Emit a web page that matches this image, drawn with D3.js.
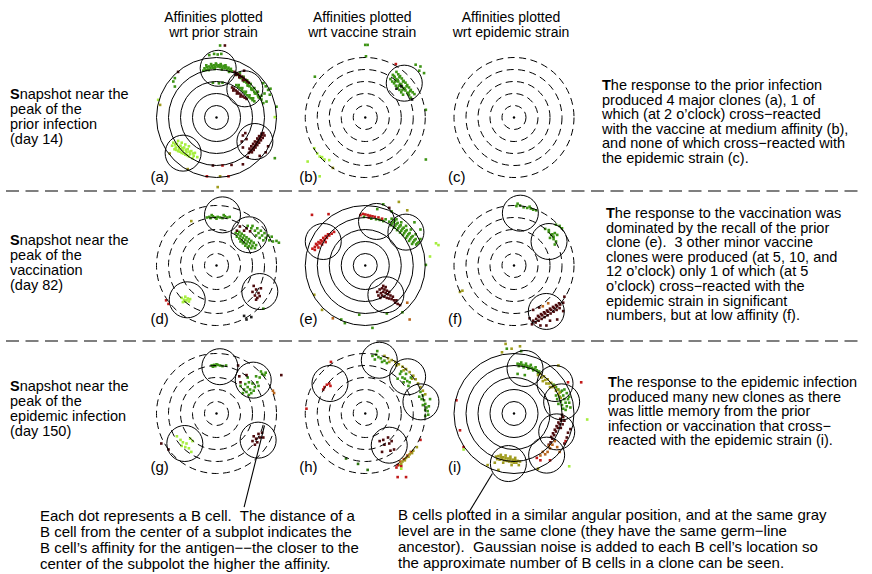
<!DOCTYPE html>
<html>
<head>
<meta charset="utf-8">
<script src="https://cdn.jsdelivr.net/npm/d3@7/dist/d3.min.js"></script>
<style>
body { margin: 0; background: #fff; }
text { font-family: "Liberation Sans", Arial, sans-serif; fill: #000; white-space: pre; }
</style>
</head>
<body>
<svg id="chart" width="872" height="574"></svg>
<script>
// ---- text content ----
const columnTitles = [
  ["Affinities plotted", "wrt prior strain"],
  ["Affinities plotted", "wrt vaccine strain"],
  ["Affinities plotted", "wrt epidemic strain"]
];
const rowTitles = [
  ["Snapshot near the", "peak of the", "prior infection", "(day 14)"],
  ["Snapshot near the", "peak of the", "vaccination", "(day 82)"],
  ["Snapshot near the", "peak of the", "epidemic infection", "(day 150)"]
];
const rowNotes = [
  ["The response to the prior infection", "produced 4 major clones (a), 1 of", "which (at 2 o\u2019clock) cross\u2212reacted", "with the vaccine at medium affinity (b),", "and none of which cross\u2212reacted with", "the epidemic strain (c)."],
  ["The response to the vaccination was", "dominated by the recall of the prior", "clone (e).  3 other minor vaccine", "clones were produced (at 5, 10, and", "12 o\u2019clock) only 1 of which (at 5", "o\u2019clock) cross\u2212reacted with the", "epidemic strain in significant", "numbers, but at low affinity (f)."],
  ["The response to the epidemic infection", "produced many new clones as there", "was little memory from the prior", "infection or vaccination that cross\u2212", "reacted with the epidemic strain (i)."]
];
const footLeft = ["Each dot represents a B cell.  The distance of a", "B cell from the center of a subplot indicates the", "B cell\u2019s affinity for the antigen\u2212\u2212the closer to the", "center of the subpolot the higher the affinity."];
const footRight = ["B cells plotted in a similar angular position, and at the same gray", "level are in the same clone (they have the same germ\u2212line", "ancestor).  Gaussian noise is added to each B cell\u2019s location so", "the approximate number of B cells in a clone can be seen."];

// ---- panel data (affinity-distance units, ring spacing = 1) ----
const panelIds = ["a", "b", "c", "d", "e", "f", "g", "h", "i"];
const solidPanels = ["a", "e", "i"];
const ringLevels = [1, 2, 3, 4, 5];
const cloneColors = { g: "#3e9416", d: "#2c7410", l: "#a6ee3e", m: "#4e0c0e", r: "#c21a1a", o: "#a09c1e", b: "#b8661e", k: "#1e1e1e" };

// clone circle centres per panel
const clonesA = [[0.14, 4.1], [2.36, 2.39], [3.2, -2.0], [-2.78, -2.97]];
const clonesB = [[3.25, 2.86]];
const clonesC = [];
const clonesD = [[0.5, 4.22], [2.72, 2.56], [3.61, -2.17], [-2.44, -2.86]];
const clonesE = [[-3.5, 2.0], [0.94, 3.67], [3.39, 2.78], [1.72, -2.44]];
const clonesF = [[0.53, 4.36], [2.92, 2.0], [2.69, -3.83]];
const clonesG = [[0.28, 3.9], [3.06, 2.78], [3.47, -2.22], [-2.64, -2.5]];
const clonesH = [[-2.94, 2.5], [1.17, 4.44], [3.53, 3.06], [4.64, 0.97], [2.0, -2.64]];
const clonesI = [[0.92, 3.75], [3.42, 2.5], [3.97, 0.97], [3.56, -1.53], [2.72, -3.47], [-0.47, -4.17]];

// B cells per panel, grouped by clone colour
const cellsA = [
  ["g", [[-1.1,3.9],[-1.0,4.1],[-0.9,3.95],[-0.8,4.2],[-0.7,4.0],[-0.6,4.25],[-0.5,4.1],[-0.4,4.3],[-0.3,4.15],[-0.2,4.35],[-0.1,4.2],[0.0,4.4],[0.1,4.25],[0.2,4.35],[0.3,4.2],[0.4,4.3],[0.5,4.15],[0.6,4.3],[0.7,4.1],[0.8,4.2],[0.9,4.0],[1.0,4.15],[1.1,3.95],[1.2,4.05],[1.3,3.85],[-0.85,4.35],[-0.45,4.45],[-0.05,4.5],[0.35,4.45],[0.75,4.35],[-0.65,3.95],[-0.15,4.05],[0.45,4.0],[1.05,3.8],
    [-0.6,5.2],[-0.2,5.3],[0.1,5.25],[0.4,5.3],[0.3,6.0],[-0.3,2.9],[0.2,2.85],[0.5,2.9],[-3.47,3.28],[-3.6,3.0],[-3.47,2.58],[5.0,0.9],
    [1.8,3.55],[1.95,3.45],[2.1,3.3],[2.2,3.2],[2.35,3.05],[2.5,2.9],[2.6,2.75],[2.75,2.6],[2.9,2.45],[3.0,2.3],[3.15,2.15],[3.3,2.0],[3.45,1.85],[3.6,1.65],[3.75,1.5],
    [1.95,3.7],[2.25,3.4],[2.55,3.1],[2.85,2.8],[3.15,2.45],[3.45,2.15],[3.75,1.8],[2.0,3.3],[2.3,3.0],[2.6,2.65],[2.9,2.35],[3.2,2.0],[3.5,1.7],
    [1.65,2.7],[1.8,2.55],[1.95,2.45],[2.1,2.3],[2.25,2.15],[2.4,2.0],[2.55,1.85],[2.7,1.7],[2.85,1.6],[3.0,1.45],[3.15,1.35],[1.85,2.7],[2.15,2.45],[2.45,2.15],[2.75,1.85],[3.05,1.6],
    [3.9,2.86],[4.1,2.6],[4.3,2.3],[4.44,1.9],[4.17,1.33],[4.0,2.0],[4.5,2.4],[3.9,1.2],[4.86,-3.39]]],
  ["m", [[1.5,3.8],[1.65,3.7],[1.8,3.6],[1.95,3.5],[2.1,3.4],[2.25,3.3],[2.4,3.15],[2.55,3.0],[1.6,3.55],[1.9,3.35],[2.2,3.1],[2.7,2.9],
    [1.3,2.5],[1.45,2.4],[1.6,2.25],[1.75,2.15],[1.9,2.0],[2.05,1.9],[2.2,1.75],[2.35,1.65],[2.5,1.55],[1.4,2.25],[1.7,2.0],[2.0,1.75],
    [3.9,-1.3],[3.8,-1.45],[3.7,-1.6],[3.6,-1.75],[3.5,-1.9],[3.4,-2.05],[3.3,-2.2],[3.2,-2.35],[3.1,-2.5],[3.0,-2.6],[2.9,-2.75],[2.8,-2.85],[2.7,-2.95],
    [4.0,-1.5],[3.85,-1.7],[3.7,-1.9],[3.55,-2.1],[3.4,-2.3],[3.25,-2.5],[3.1,-2.7],[2.95,-2.9],[3.75,-1.35],[3.55,-1.55],[3.4,-1.75],[3.2,-2.0],[3.05,-2.2],[2.9,-2.4],[2.75,-2.6],
    [2.2,-1.5],[2.4,-1.3],[2.1,-2.0],[2.5,-1.8],[4.3,-2.4],[4.1,-2.9],[3.6,-3.2],[2.2,-2.5],[2.6,-3.3],
    [-0.3,-4.0],[1.25,-3.95],[2.2,-3.9],[2.3,3.9],[-3.2,3.8],[0.7,6.0]]],
  ["l", [[-3.6,-2.1],[-3.3,-2.2],[-3.0,-2.35],[-2.7,-2.5],[-2.4,-2.65],[-2.1,-2.8],[-1.8,-2.95],
    [-3.7,-2.35],[-3.4,-2.5],[-3.1,-2.6],[-2.8,-2.75],[-2.5,-2.9],[-2.2,-3.05],[-1.9,-3.2],[-1.6,-3.3],
    [-3.5,-2.65],[-3.2,-2.8],[-2.9,-2.95],[-2.6,-3.1],[-2.3,-3.25],[-2.0,-3.4],
    [-3.2,-1.95],[-2.9,-2.1],[-2.6,-2.25],[-2.3,-2.4],
    [-3.45,-2.25],[-3.15,-2.45],[-2.85,-2.55],[-2.55,-2.7],[-2.25,-2.85],[-1.95,-3.0],[-3.35,-2.7],[-3.05,-2.85],[-2.75,-3.0],[-2.45,-3.15],
    [-4.86,1.47],[4.86,0.03]]],
  ["r", [[0.5,-4.0],[1.0,-4.9],[-0.8,-4.9]]],
  ["o", [[-3.9,-3.0],[-2.4,-4.3],[-4.7,1.05],[0.3,-4.9],[0.1,-5.8]]]
];
const cellsB = [
  ["g", [[2.6,3.8],[2.75,3.6],[2.9,3.45],[3.05,3.25],[3.2,3.05],[3.35,2.9],[3.5,2.7],[3.65,2.5],[3.8,2.3],[3.95,2.1],[4.1,1.95],
    [2.3,3.55],[2.45,3.35],[2.6,3.2],[2.75,3.0],[2.9,2.8],[3.05,2.6],[3.2,2.45],[3.35,2.25],[3.5,2.05],[3.65,1.85],[3.8,1.65],
    [2.1,3.2],[2.25,3.0],[2.4,2.85],[2.55,2.65],[2.7,2.45],[2.85,2.3],[3.0,2.1],[3.15,1.9],
    [2.4,3.45],[2.7,3.1],[3.0,2.75],[3.3,2.4],[3.6,2.05],[2.5,3.0],[2.8,2.65],[3.1,2.3],[2.85,3.35],[3.15,3.0],[3.45,2.6],[3.75,2.2],
    [4.2,4.4],[4.6,4.25],[4.9,3.7],[4.5,3.9],[0.06,5.1],[0.0,6.05],[0.2,6.05],[-4.2,3.4],[5.05,0.64],[5.05,-3.5]]],
  ["k", [[3.0,2.6],[3.9,1.5],[2.6,2.4]]],
  ["r", [[2.55,4.45]]],
  ["l", [[-4.25,-2.56],[-3.8,-3.25],[-3.4,-3.5],[-3.0,-3.55],[-3.6,-3.3],[-4.8,-3.67],[-3.8,-4.9],[-4.0,-3.0]]],
  ["o", [[-2.7,-4.2]]]
];
const cellsC = [];
const cellsD = [
  ["g", [[-0.8,4.0],[-0.6,4.05],[-0.5,3.95],[-0.3,4.1],[-0.1,4.0],[0.1,4.05],[0.3,4.0],[0.5,3.95],[0.7,4.1],[0.9,4.0],[1.1,4.05],[-0.4,4.2],[0.6,4.2],[0.0,3.9],
    [1.6,2.7],[1.8,2.6],[2.0,2.45],[2.2,2.3],[2.4,2.15],[2.6,2.0],[2.8,1.85],[3.0,1.65],[3.2,1.45],
    [1.7,2.4],[1.9,2.25],[2.1,2.1],[2.3,1.95],[2.5,1.8],[2.7,1.6],[2.9,1.45],
    [1.9,2.8],[2.1,2.65],[2.3,2.5],[2.5,2.35],[2.7,2.2],[2.9,2.05],[3.1,1.9],[3.3,1.7],
    [2.0,2.0],[2.2,1.85],[2.4,1.65],[2.6,1.5],
    [2.6,3.3],[2.9,3.1],[3.2,2.9],[3.5,2.7],[3.8,2.5],[4.1,2.3],[4.4,2.1],[4.7,2.0],[5.0,2.05],[3.0,3.3],[3.4,3.1],[3.7,2.9],[4.0,2.7],[4.3,2.5],[3.6,2.3],[3.9,2.1],[4.6,2.4],[5.2,1.9],[3.3,2.5],[3.9,-3.6]]],
  ["m", [[2.5,3.1],[2.8,2.85],[1.95,3.25],[1.7,2.9],[2.3,2.9],
    [3.1,-1.7],[3.3,-2.0],[3.5,-2.3],[3.2,-2.5],[3.4,-2.7],[3.6,-2.55],[3.0,-2.2],[3.7,-1.9],[3.3,-2.85]]],
  ["l", [[-2.9,-2.7],[-2.7,-2.85],[-2.5,-2.9],[-2.3,-3.0],[-2.6,-3.0],[-2.8,-3.05],[-2.4,-2.75],[-2.2,-2.8],[-2.6,-2.6]]],
  ["r", [[-4.2,-2.9],[-4.0,-3.2]]],
  ["o", [[-2.1,3.7]]],
  ["k", [[2.5,-4.5],[2.9,-4.3],[2.3,-4.2]]]
];
const cellsE = [
  ["r", [[-4.4,1.4],[-4.2,1.55],[-4.0,1.7],[-3.8,1.85],[-3.6,2.0],[-3.4,2.15],[-3.2,2.3],[-3.0,2.5],[-2.8,2.65],[-2.6,2.8],
    [-4.1,1.8],[-3.9,1.95],[-3.7,2.1],[-3.5,2.3],[-3.3,2.45],[-3.1,2.6],[-4.2,1.3],[-3.9,1.5],[-3.6,1.75],[-3.3,1.95],
    [-4.44,4.22],[-3.06,4.28],
    [-0.4,4.2],[-0.2,4.3],[0.0,4.25],[0.2,4.2],[0.4,4.15],[0.6,4.1],[0.8,4.05],[1.1,4.0],[1.4,3.9],[0.3,4.0]]],
  ["g", [[0.9,3.85],[1.2,3.8],[1.5,3.7],[1.7,3.85],[0.5,3.9],[-0.1,4.05],[1.5,5.1],[2.2,4.5],[1.0,4.7],
    [2.2,3.9],[2.45,3.75],[2.7,3.55],[2.95,3.35],[3.2,3.15],[3.45,2.95],[3.7,2.7],[3.95,2.45],[4.2,2.2],[4.45,1.95],
    [2.0,3.65],[2.25,3.5],[2.5,3.3],[2.75,3.1],[3.0,2.9],[3.25,2.7],[3.5,2.45],[3.75,2.2],[4.0,1.95],[4.25,1.75],
    [2.15,3.35],[2.4,3.15],[2.65,2.95],[2.9,2.75],[3.15,2.55],[3.4,2.3],[3.65,2.05],[3.9,1.8],
    [2.35,3.65],[2.6,3.45],[2.85,3.25],[3.1,3.05],[3.35,2.85],[3.6,2.6],[3.85,2.35],[4.1,2.1],[4.35,1.85],
    [2.6,3.85],[3.0,3.6],[3.4,3.3],[3.8,3.0],[4.2,2.6],[4.6,2.2],[4.1,3.6],[4.6,3.0],[5.05,0.05],
    [-1.7,-4.8],[-0.5,-4.1],[0.6,-5.2],[-2.0,-4.5],[1.8,-4.0],[3.1,-3.9]]],
  ["m", [[1.0,-2.2],[1.2,-2.0],[1.4,-1.9],[1.6,-2.0],[1.8,-2.1],[1.3,-2.3],[1.5,-2.2],[1.7,-2.3],[1.9,-2.4],[2.1,-2.5],[1.1,-2.5],[1.4,-2.5],[1.6,-2.6],[1.8,-2.7],[2.0,-2.75],[2.2,-2.8],[2.4,-2.9],[1.5,-1.7],[1.25,-2.7],[2.3,-2.6],[1.7,-1.8],[2.0,-2.2],
    [2.5,-3.1],[2.7,-3.2],[2.9,-3.3],[2.6,-2.9],[2.0,4.8]]],
  ["l", [[6.1,1.7]]],
  ["o", [[-4.25,-2.44],[-3.6,-3.7],[2.8,5.3],[3.5,4.6]]],
  ["b", [[-2.7,-4.4],[3.7,-4.5],[3.5,-3.1]]]
];
const cellsF = [
  ["g", [[0.2,4.95],[0.5,5.0],[0.8,4.85],[1.1,4.8],[1.4,4.75],[1.6,4.65],[1.85,4.6],[1.3,4.9],[0.3,5.15],
    [2.6,3.05],[2.9,2.8],[3.1,2.55],[3.2,2.6],[3.3,2.4],[3.4,2.7],[3.0,2.3],[3.3,2.2],[3.5,2.0],[3.4,1.75],[3.6,2.55],[2.9,2.95],[3.5,3.4],[4.0,3.1],[3.8,3.3]]],
  ["m", [[1.6,-4.6],[1.85,-4.45],[2.1,-4.3],[2.35,-4.15],[2.6,-4.0],[2.85,-3.85],[3.1,-3.7],[3.35,-3.55],[3.6,-3.4],[3.85,-3.25],[4.1,-3.1],
    [1.8,-4.75],[2.05,-4.6],[2.3,-4.45],[2.55,-4.3],[2.8,-4.15],[3.05,-4.0],[3.3,-3.85],[3.55,-3.7],[3.8,-3.55],
    [2.0,-4.2],[2.25,-4.05],[2.5,-3.9],[2.75,-3.75],[3.0,-3.6],[3.25,-3.45],[3.5,-3.3],[3.75,-3.15],
    [1.3,-4.4],[1.5,-4.9],[2.2,-5.0],[3.0,-4.6],[4.1,-3.8],[4.2,-2.6],[1.6,-3.7],[2.1,-3.5],[3.6,-4.5],[2.7,-5.0]]],
  ["b", [[2.85,-3.15],[2.4,-3.4]]],
  ["l", [[-6.5,1.85],[-7.0,0.75]]],
  ["o", [[-4.5,-2.2],[-4.3,-2.1]]]
];
const cellsG = [
  ["g", [[-0.4,4.0],[-0.2,4.05],[-0.1,3.95],[0.1,4.05],[0.3,4.0],[0.5,3.95],[0.8,4.0],[-0.3,3.9],[0.0,4.1],
    [2.0,2.3],[2.3,2.0],[2.6,2.2],[2.8,2.0],[2.5,1.8],[2.9,1.7],[3.2,2.2],[3.0,2.5],[3.4,2.6],[3.6,3.0],[3.3,3.1],[3.8,3.3],[4.0,3.2],[2.7,2.6],[2.4,2.45],[3.1,1.9],[2.2,1.7],[2.7,1.55],[3.5,2.3],[4.1,3.4],[3.7,3.5],[2.6,3.0]]],
  ["m", [[1.8,4.0],[2.5,3.2],[2.0,2.6],[1.9,3.1],[5.4,3.2],
    [3.1,-1.9],[3.3,-2.1],[3.5,-1.7],[3.6,-2.0],[3.8,-1.6],[3.4,-2.4],[3.2,-2.6],[3.9,-2.0],[3.0,-2.3],[-4.6,-2.5],[-4.0,-3.0]]],
  ["b", [[4.7,1.9],[4.8,1.7]]],
  ["l", [[-3.3,-1.9],[-3.0,-2.2],[-2.8,-2.4],[-2.5,-2.5],[-2.2,-2.1],[-2.6,-2.8],[-2.3,-2.9],[-2.1,-3.2],[-2.9,-2.7],[-2.0,-2.3]]]
];
const cellsH = [
  ["o", [[1.6,4.8],[1.9,4.6],[2.2,4.45],[2.5,4.3],[2.8,4.1],[3.1,3.9],[3.4,3.7],[3.7,3.45],[4.0,3.15],[4.2,2.85],[2.0,4.3],[2.6,4.0],[3.2,3.6],[3.9,2.9],[4.4,2.5],[4.6,2.2],[4.8,1.9],[5.0,1.6],
    [2.8,-4.3],[3.1,-4.0],[3.4,-3.7],[3.7,-3.4],[4.0,-3.1],[4.3,-2.8],[3.0,-4.2],[3.3,-3.9],[3.6,-3.6],[3.9,-3.3]]],
  ["g", [[0.6,4.8],[0.9,4.9],[1.1,4.7],[1.3,4.6],[0.8,4.5],[1.4,4.3],[1.0,5.2],[1.6,4.4],[1.8,4.2],
    [2.9,3.3],[3.1,3.0],[3.3,2.9],[3.5,2.7],[3.7,2.6],[3.2,2.6],[3.0,3.5],[3.4,3.3],[3.8,3.0],[2.7,2.9],[3.6,2.3],
    [4.6,1.8],[4.8,1.5],[4.9,1.1],[5.0,0.8],[5.1,0.5],[5.2,0.2],[5.25,-0.1],[4.7,1.2],[4.8,0.7],[5.0,0.3],[5.3,0.6],[4.5,1.4],[5.4,1.2],[5.0,-0.2]]],
  ["d", [[-1.6,-3.75],[-0.6,-4.2],[0.2,-4.7]]],
  ["r", [[-3.4,2.2],[-3.2,2.4],[-3.0,2.5],[-3.5,2.0],[-2.9,2.3],[-2.86,4.3],[-4.9,0.4],
    [2.6,-4.5],[2.7,-4.3],[3.0,-4.4],[2.7,-5.3],[3.4,-5.3],[4.6,-2.2]]],
  ["m", [[1.2,-2.3],[1.5,-2.2],[1.9,-2.0],[2.2,-2.3],[1.6,-2.6],[2.1,-3.1],[2.4,-3.0],[1.4,-3.2],[2.0,-2.5]]],
  ["b", [[2.9,-4.0],[3.2,-3.8],[3.5,-3.5],[3.8,-3.2]]],
  ["l", [[3.0,-4.6]]]
];
const cellsI = [
  ["g", [[0.3,4.15],[0.5,4.1],[0.7,4.05],[0.9,4.0],[1.1,3.95],[1.3,3.9],[1.5,3.8],[1.7,3.7],[1.9,3.6],[2.1,3.5],[0.4,3.95],[0.8,3.85],[1.2,3.75],[1.6,3.6],[2.0,3.4],[0.6,4.25],[1.0,4.15],[1.4,4.05],[1.8,3.85],
    [0.3,3.3],[0.9,3.2],[-0.6,5.4],[0.6,5.2],
    [3.3,2.4],[3.5,2.2],[3.7,2.0],[3.9,1.8],[4.1,1.5],[4.2,1.2],[4.3,0.9],[4.4,0.6],[4.3,0.3],[3.9,1.0],[4.0,0.7],[4.1,0.4],[3.8,1.4],[4.5,1.2],[4.6,0.9],[4.0,1.9],[4.4,1.7],[4.6,1.4],[3.6,1.2],[3.7,0.8],[4.7,0.5],[4.2,2.0],[3.5,1.5]]],
  ["o", [[2.0,3.2],[2.3,3.0],[2.6,2.8],[2.9,2.5],[3.2,2.2],[3.5,1.9],[3.7,1.6],[3.9,1.3],[2.2,3.3],[2.5,3.1],[2.8,2.85],[3.1,2.55],[3.4,2.3],[3.6,2.0],[3.8,1.75],[2.4,2.7],[2.7,2.5],[3.0,2.2],
    [-1.5,-3.6],[-1.3,-3.55],[-1.1,-3.6],[-0.9,-3.65],[-0.7,-3.7],[-0.5,-3.75],[-0.3,-3.8],[-0.1,-3.85],[0.1,-3.9],[0.3,-3.95],[0.5,-4.0],[-1.4,-3.8],[-1.2,-3.85],[-1.0,-3.8],[-0.8,-3.9],[-0.6,-3.95],[-0.4,-4.0],[-0.2,-4.05],[0.0,-4.1],[0.2,-4.1],[-1.1,-3.45],[-0.7,-3.5],[-0.3,-3.6],[0.1,-3.7],[-0.9,-4.1],[-0.2,-4.3],[0.4,-4.3],[-1.6,-4.1],
    [-0.7,5.8],[-0.2,5.4],[0.5,5.6],[-1.0,5.1],[2.0,-4.6],[-2.2,-4.3],[-1.3,-4.7],[3.7,4.0]]],
  ["m", [[4.1,-0.3],[3.95,-0.6],[3.8,-0.9],[3.65,-1.2],[3.5,-1.5],[3.35,-1.8],[3.2,-2.1],[3.05,-2.4],[2.9,-2.6],[4.0,-0.1],[3.85,-0.45],[3.7,-0.75],[3.55,-1.05],[3.4,-1.35],[3.25,-1.65],[3.1,-1.95],[4.2,-0.6],[4.05,-0.9],[3.9,-1.2],[4.5,-1.6],[4.7,-1.3],[4.4,-2.0],[4.2,-2.5]]],
  ["b", [[3.4,-2.3],[3.2,-2.6],[3.0,-2.9],[2.8,-3.2],[2.6,-3.4],[2.4,-3.2],[2.9,-2.7],[3.6,-2.8],[3.8,-3.2],[2.2,-3.5]]],
  ["r", [[-4.8,1.1],[-4.5,-1.4],[-4.2,-2.8],[2.2,-3.9],[4.5,2.6],[5.6,2.6],[1.9,-3.7],[3.0,-3.9],[4.3,-2.3]]],
  ["l", [[-4.2,-3.0],[6.1,-0.5],[4.6,-4.4]]]
];
const clonesByPanel = [clonesA, clonesB, clonesC, clonesD, clonesE, clonesF, clonesG, clonesH, clonesI];
const cellsByPanel = [cellsA, cellsB, cellsC, cellsD, cellsE, cellsF, cellsG, cellsH, cellsI];
// pointers from the notes to a clone: [panel, from, to] in affinity units
const pointers = [["g", [4.0, -1.0], [2.3, -7.8]], ["i", [-1.8, -5.0], [-3.8, -8.3]]];

// ---- layout ----
const svg = d3.select("#chart");
const colX = d3.scaleLinear().domain([0, 2]).range([216.5, 514]);
const rowY = d3.scaleLinear().domain([0, 2]).range([117.5, 413.5]);
const dist = d3.scaleLinear().domain([0, 5]).range([0, 60]);
const cloneRadius = 1.5;
const labelDy = [64, 58, 58];

// column titles
columnTitles.forEach((lines, c) => {
  const t = svg.append("text").attr("text-anchor", "middle").style("font-size", "14px");
  lines.forEach((s, k) => t.append("tspan").attr("x", colX(c) - 3).attr("y", 22 + k * 15).text(s));
});

// row titles, first letter bold
const rowTitleTop = [99, 245, 391];
rowTitles.forEach((lines, r) => {
  lines.forEach((s, k) => {
    const t = svg.append("text").attr("x", 10).attr("y", rowTitleTop[r] + k * 15).style("font-size", "14.5px");
    if (k === 0) {
      t.append("tspan").style("font-weight", "bold").text(s[0]);
      t.append("tspan").text(s.slice(1));
    } else t.text(s);
  });
});

// notes on the right, first letter of each note bold
const noteX = [602, 606, 608];
const noteTop = [90, 218, 387];
rowNotes.forEach((lines, r) => {
  lines.forEach((s, k) => {
    const t = svg.append("text").attr("x", noteX[r]).attr("y", noteTop[r] + k * 14.6).style("font-size", "14.5px");
    if (k === 0) {
      t.append("tspan").style("font-weight", "bold").text(s[0]);
      t.append("tspan").text(s.slice(1));
    } else t.text(s);
  });
});

// row separators
[191, 341].forEach(y => {
  svg.append("line").attr("x1", 6).attr("x2", 864).attr("y1", y).attr("y2", y)
    .attr("stroke", "#000").attr("stroke-width", 1.1).attr("stroke-dasharray", "13,6.5");
});

// panels
panelIds.forEach((id, i) => {
  const col = i % 3, row = Math.floor(i / 3);
  const cx = colX(col), cy = rowY(row);
  const px = d => cx + dist(d[0]);
  const py = d => cy - dist(d[1]);
  const g = svg.append("g");

  // B cells
  cellsByPanel[i].forEach(([key, pts]) => {
    g.selectAll(null).data(pts).enter().append("rect")
      .attr("x", d => px(d) - 1.3).attr("y", d => py(d) - 1.3)
      .attr("width", 2.6).attr("height", 2.6)
      .attr("fill", cloneColors[key]);
  });

  // affinity rings
  const solid = solidPanels.includes(id);
  g.selectAll(null).data(ringLevels).enter().append("circle")
    .attr("cx", cx).attr("cy", cy).attr("r", d => dist(d))
    .attr("fill", "none").attr("stroke", "#000").attr("stroke-width", 1)
    .attr("stroke-dasharray", solid ? null : "7,4.5");
  g.append("circle").attr("cx", cx).attr("cy", cy).attr("r", 1.2).attr("fill", "#000");

  // clone circles
  g.selectAll(null).data(clonesByPanel[i]).enter().append("circle")
    .attr("cx", d => px(d)).attr("cy", d => py(d)).attr("r", dist(cloneRadius))
    .attr("fill", "none").attr("stroke", "#000").attr("stroke-width", 1);

  // panel letter
  g.append("text").attr("x", cx - 66).attr("y", cy + labelDy[row])
    .style("font-size", "15px").text(`(${id})`);

  pointers.filter(p => p[0] === id).forEach(([, a, b]) => {
    g.append("line").attr("x1", px(a)).attr("y1", py(a)).attr("x2", px(b)).attr("y2", py(b))
      .attr("stroke", "#000").attr("stroke-width", 1.1);
  });
});

// footnotes
footLeft.forEach((s, k) => svg.append("text").attr("x", 40).attr("y", 521 + k * 16).style("font-size", "15px").text(s));
footRight.forEach((s, k) => svg.append("text").attr("x", 398).attr("y", 520 + k * 16).style("font-size", "15px").text(s));
</script>
</body>
</html>
